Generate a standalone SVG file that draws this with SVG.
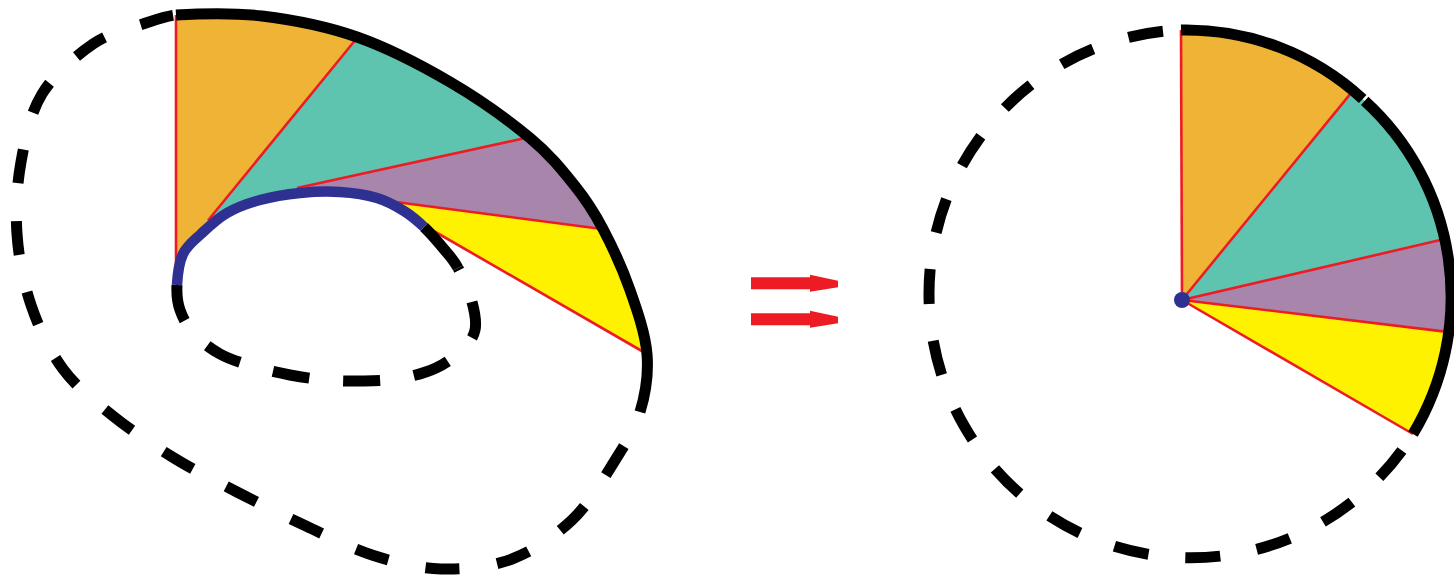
<svg xmlns="http://www.w3.org/2000/svg" width="1454" height="577" viewBox="0 0 1454 577">
<style>
.blk{fill:none;stroke:#000;stroke-width:11;stroke-linecap:butt;stroke-linejoin:round}
.blue{fill:none;stroke:#2E3192;stroke-width:10.5;stroke-linecap:butt}
.red{fill:none;stroke:#ED1C24;stroke-width:2.6;stroke-linecap:butt}
.orange{fill:#EFB335}
.teal{fill:#5FC4AF}
.purple{fill:#A886AB}
.yellow{fill:#FFF200}
.arrow{fill:#ED1C24}
</style>
<defs>
<clipPath id="leftClip">
<path d="M176,15 C195.33,13.83 231.83,12.33 262,16 C292.17,19.67 325.67,26 357,37 C388.33,48 421.17,65.17 450,82 C478.83,98.83 509.17,120.67 530,138 C550.83,155.33 562.83,170.83 575,186 C587.17,201.17 593.83,211.67 603,229 C612.17,246.33 622.67,269.17 630,290 C637.33,310.83 645.33,333.67 647,354 L432,230 L424,227 C417.5,220.83 411.83,215.83 404,211 C396.17,206.17 387.67,201.17 377,198 C366.33,194.83 352.83,192.83 340,192 C327.17,191.17 313.33,191.67 300,193 C286.67,194.33 272.17,196.67 260,200 C247.83,203.33 236.83,207.33 227,213 C217.17,218.67 208.33,227.17 201,234 C193.67,240.83 187,245.5 183,254 C179,262.5 177.5,275.67 177,285 L176,285 Z"/>
</clipPath>
<path id="arrowShape" d="M0,0 H59 V-2.5 L87,3.5 V10 L59,14.5 V12 H0 Z"/>
</defs>

<g id="left-figure">
  <g id="left-sectors" clip-path="url(#leftClip)">
    <path class="orange" d="M150,-10 L396,-10 L210,218 L250,260 L176,320 L150,320 Z"/>
    <path class="teal" d="M396,-10 L600,-10 L600,121.7 L530,137 L297,188 L300,240 L230,240 L210,218 Z"/>
    <path class="purple" d="M600,121.7 L681,104 L700,242 L602,229 L388,201 L390,240 L300,240 L297,188 Z"/>
    <path class="yellow" d="M388,201 L700,242 L720,300 L709,391.3 L645,354 L432,230 L430,260 L390,240 Z"/>
  </g>
  <g id="left-radii">
    <path class="red" d="M176,15 V272"/>
    <path class="red" d="M357,38 L208,220.5"/>
    <path class="red" d="M530,137 L297,188"/>
    <path class="red" d="M602,229 L388,201"/>
    <path class="red" d="M647,354 L432,230"/>
  </g>
  <path id="inner-dashed" class="blk" stroke-dasharray="37 34" d="M177,285 C176.5,294.33 177.17,301.83 180,310 C182.83,318.17 187.33,326.67 194,334 C200.67,341.33 210.33,348.67 220,354 C229.67,359.33 240.33,362.5 252,366 C263.67,369.5 277.67,372.67 290,375 C302.33,377.33 313.67,379 326,380 C338.33,381 351.33,381.33 364,381 C376.67,380.67 390,380.17 402,378 C414,375.83 426,372.67 436,368 C446,363.33 455.5,356.33 462,350 C468.5,343.67 473.33,338 475,330 C476.67,322 474.83,312.33 472,302 C469.17,291.67 462.83,277 458,268"/>
  <path id="inner-solid" class="blk" d="M424,227 C430.5,233.17 437.33,241.17 443,248 C448.67,254.83 453.17,259 458,268"/>
  <path id="inner-blue" class="blue" d="M177,285 C177.5,275.67 179,262.5 183,254 C187,245.5 193.67,240.83 201,234 C208.33,227.17 217.17,218.67 227,213 C236.83,207.33 247.83,203.33 260,200 C272.17,196.67 286.67,194.33 300,193 C313.33,191.67 327.17,191.17 340,192 C352.83,192.83 366.33,194.83 377,198 C387.67,201.17 396.17,206.17 404,211 C411.83,215.83 417.5,220.83 424,227"/>
  <path id="outer-solid" class="blk" d="M176,15 C195.33,13.83 231.83,12.33 262,16 C292.17,19.67 325.67,26 357,37 C388.33,48 421.17,65.17 450,82 C478.83,98.83 509.17,120.67 530,138 C550.83,155.33 562.83,170.83 575,186 C587.17,201.17 593.83,211.67 603,229 C612.17,246.33 622.67,269.17 630,290 C637.33,310.83 645.33,333.67 647,354 C648.67,374.33 645.5,394 640,412"/>
  <path id="outer-dashed" class="blk" stroke-dasharray="34 38" stroke-dashoffset="34" d="M640,412 C634.5,430 625.33,444 614,462 C602.67,480 589,503.83 572,520 C555,536.17 533.83,550.83 512,559 C490.17,567.17 464.33,569.67 441,569 C417.67,568.33 394.5,562.17 372,555 C349.5,547.83 328.5,536.5 306,526 C283.5,515.5 259,503.33 237,492 C215,480.67 194.67,470.67 174,458 C153.33,445.33 131.5,430.83 113,416 C94.5,401.17 76.67,387.5 63,369 C49.33,350.5 38.67,327.5 31,305 C23.33,282.5 18.67,257.83 17,234 C15.33,210.17 16.83,185.33 21,162 C25.17,138.67 30,113.67 42,94 C54,74.33 75.67,55.83 93,44 C110.33,32.17 132.17,27.83 146,23 C155,20 166,16 176,15"/>
</g>

<g id="arrows">
  <use href="#arrowShape" class="arrow" transform="translate(751,277.3)"/>
  <use href="#arrowShape" class="arrow" transform="translate(751,313.2)"/>
</g>

<g id="right-figure">
  <g id="right-sectors">
    <path class="orange" d="M1182,300 L1181,30 A262,264 0 0 1 1353,90.6 Z"/>
    <path class="teal" d="M1182,300 L1353,90.6 A262,264 0 0 1 1442.4,239.6 Z"/>
    <path class="purple" d="M1182,300 L1442.4,239.6 A262,264 0 0 1 1445.3,331.6 Z"/>
    <path class="yellow" d="M1182,300 L1445.3,331.6 A262,264 0 0 1 1413,434 Z"/>
  </g>
  <g id="right-radii">
    <path class="red" d="M1182,300 L1181,30"/>
    <path class="red" d="M1182,300 L1353,90.6"/>
    <path class="red" d="M1182,300 L1442.4,239.6"/>
    <path class="red" d="M1182,300 L1445.3,331.6"/>
    <path class="red" d="M1182,300 L1413,434"/>
  </g>
  <path id="right-solid-1" class="blk" d="M1181,30 A262,264 0 0 1 1362.7,99"/>
  <path id="right-solid-2" class="blk" d="M1364.7,100.9 A262,264 0 0 1 1413,434"/>
  <path id="right-dashed" class="blk" stroke-dasharray="35 37" stroke-dashoffset="52" d="M1413,434 A262,264 0 1 1 1181,30"/>
  <circle id="center-dot" cx="1182" cy="300" r="8" fill="#2E3192"/>
</g>
</svg>
